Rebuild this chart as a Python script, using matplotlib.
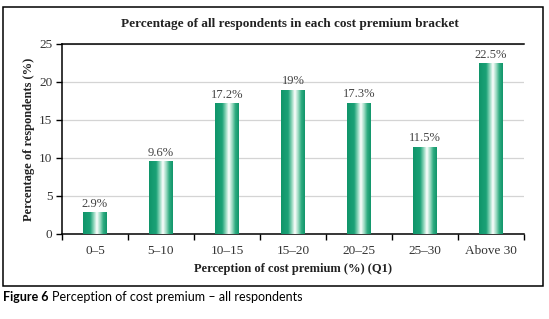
import numpy as np
import matplotlib
matplotlib.use("Agg")
import matplotlib.pyplot as plt
from matplotlib.colors import LinearSegmentedColormap
from matplotlib.patches import Rectangle

categories = ["0\u20135", "5\u201310", "10\u201315", "15\u201320", "20\u201325", "25\u201330", "Above 30"]
values = [2.9, 9.6, 17.2, 19.0, 17.3, 11.5, 22.5]
value_labels = ["2.9%", "9.6%", "17.2%", "19%", "17.3%", "11.5%", "22.5%"]
y_ticks = [0, 5, 10, 15, 20, 25]

serif = "Liberation Serif"

fig = plt.figure(figsize=(5.49, 3.19), dpi=100)
W, H = 549, 319

# outer frame
fig.add_artist(Rectangle((3 / W, 1 - 286 / H), 540 / W, 279 / H, transform=fig.transFigure,
                         fill=False, edgecolor="black", linewidth=1.1))

ax = fig.add_axes([62 / W, 1 - 234 / H, 462 / W, 190 / H])
x = np.arange(len(categories))
bars = ax.bar(x, values, width=0.35, color="none", edgecolor="none", zorder=3)

cmap = LinearSegmentedColormap.from_list("g", [
    (0.0, "#10956a"), (0.3, "#1ba277"), (0.45, "#8fd6bb"), (0.58, "#ffffff"),
    (0.72, "#9bdac2"), (0.85, "#2eab80"), (1.0, "#10956a")])
grad = np.linspace(0, 1, 256).reshape(1, -1)
for b in bars:
    x0, y0 = b.get_x(), b.get_y()
    w, h = b.get_width(), b.get_height()
    im = ax.imshow(grad, cmap=cmap, aspect="auto", extent=(x0, x0 + w, y0, y0 + h),
                   zorder=3, interpolation="bilinear")
    im.set_clip_path(b)

for xi, v, lab in zip(x, values, value_labels):
    ax.text(xi, v + 0.3, lab, ha="center", va="bottom", fontsize=9,
            family=serif, color="#444444", zorder=4)

ax.set_xlim(-0.5, len(categories) - 0.5)
ax.set_ylim(0, 25)
ax.set_yticks(y_ticks)
ax.set_yticklabels([str(t) for t in y_ticks], family=serif, fontsize=9.5, color="#333333")
ax.set_xticks(x)
ax.set_xticklabels(categories, family=serif, fontsize=9.5, color="#333333")
ax.set_xticks(np.arange(-0.5, len(categories)), minor=True)
ax.tick_params(axis="x", which="major", length=0, pad=8)
ax.tick_params(axis="x", which="minor", length=4, width=1, direction="out")
ax.tick_params(axis="y", length=4, width=1, direction="out", pad=3)

ax.grid(axis="y", color="#d4d4d4", linewidth=0.9, zorder=0)
ax.set_axisbelow(True)
for s in ["left", "bottom", "top"]:
    ax.spines[s].set_color("black")
    ax.spines[s].set_linewidth(1.1)
ax.spines["right"].set_visible(False)

ax.set_xlabel("Perception of cost premium (%) (Q1)", family=serif, fontsize=9,
              fontweight="bold", color="#222222", labelpad=4)
ax.set_ylabel("Percentage of respondents (%)", family=serif, fontsize=9,
              fontweight="bold", color="#222222", labelpad=3)

fig.text(290 / W, 1 - 24 / H, "Percentage of all respondents in each cost premium bracket",
         ha="center", va="center", family=serif, fontsize=9.5, fontweight="bold", color="#222222")

t1 = fig.text(3 / W, 1 - 297 / H, "Figure 6", ha="left", va="center", family="Lato",
              fontsize=9, fontweight="bold", color="black")
fig.canvas.draw()
bb = t1.get_window_extent()
fig.text((bb.x1 + 3) / W, 1 - 297 / H, "Perception of cost premium \u2013 all respondents",
         ha="left", va="center", family="Lato", fontsize=9, color="black")

fig.savefig("out.png", dpi=100)
